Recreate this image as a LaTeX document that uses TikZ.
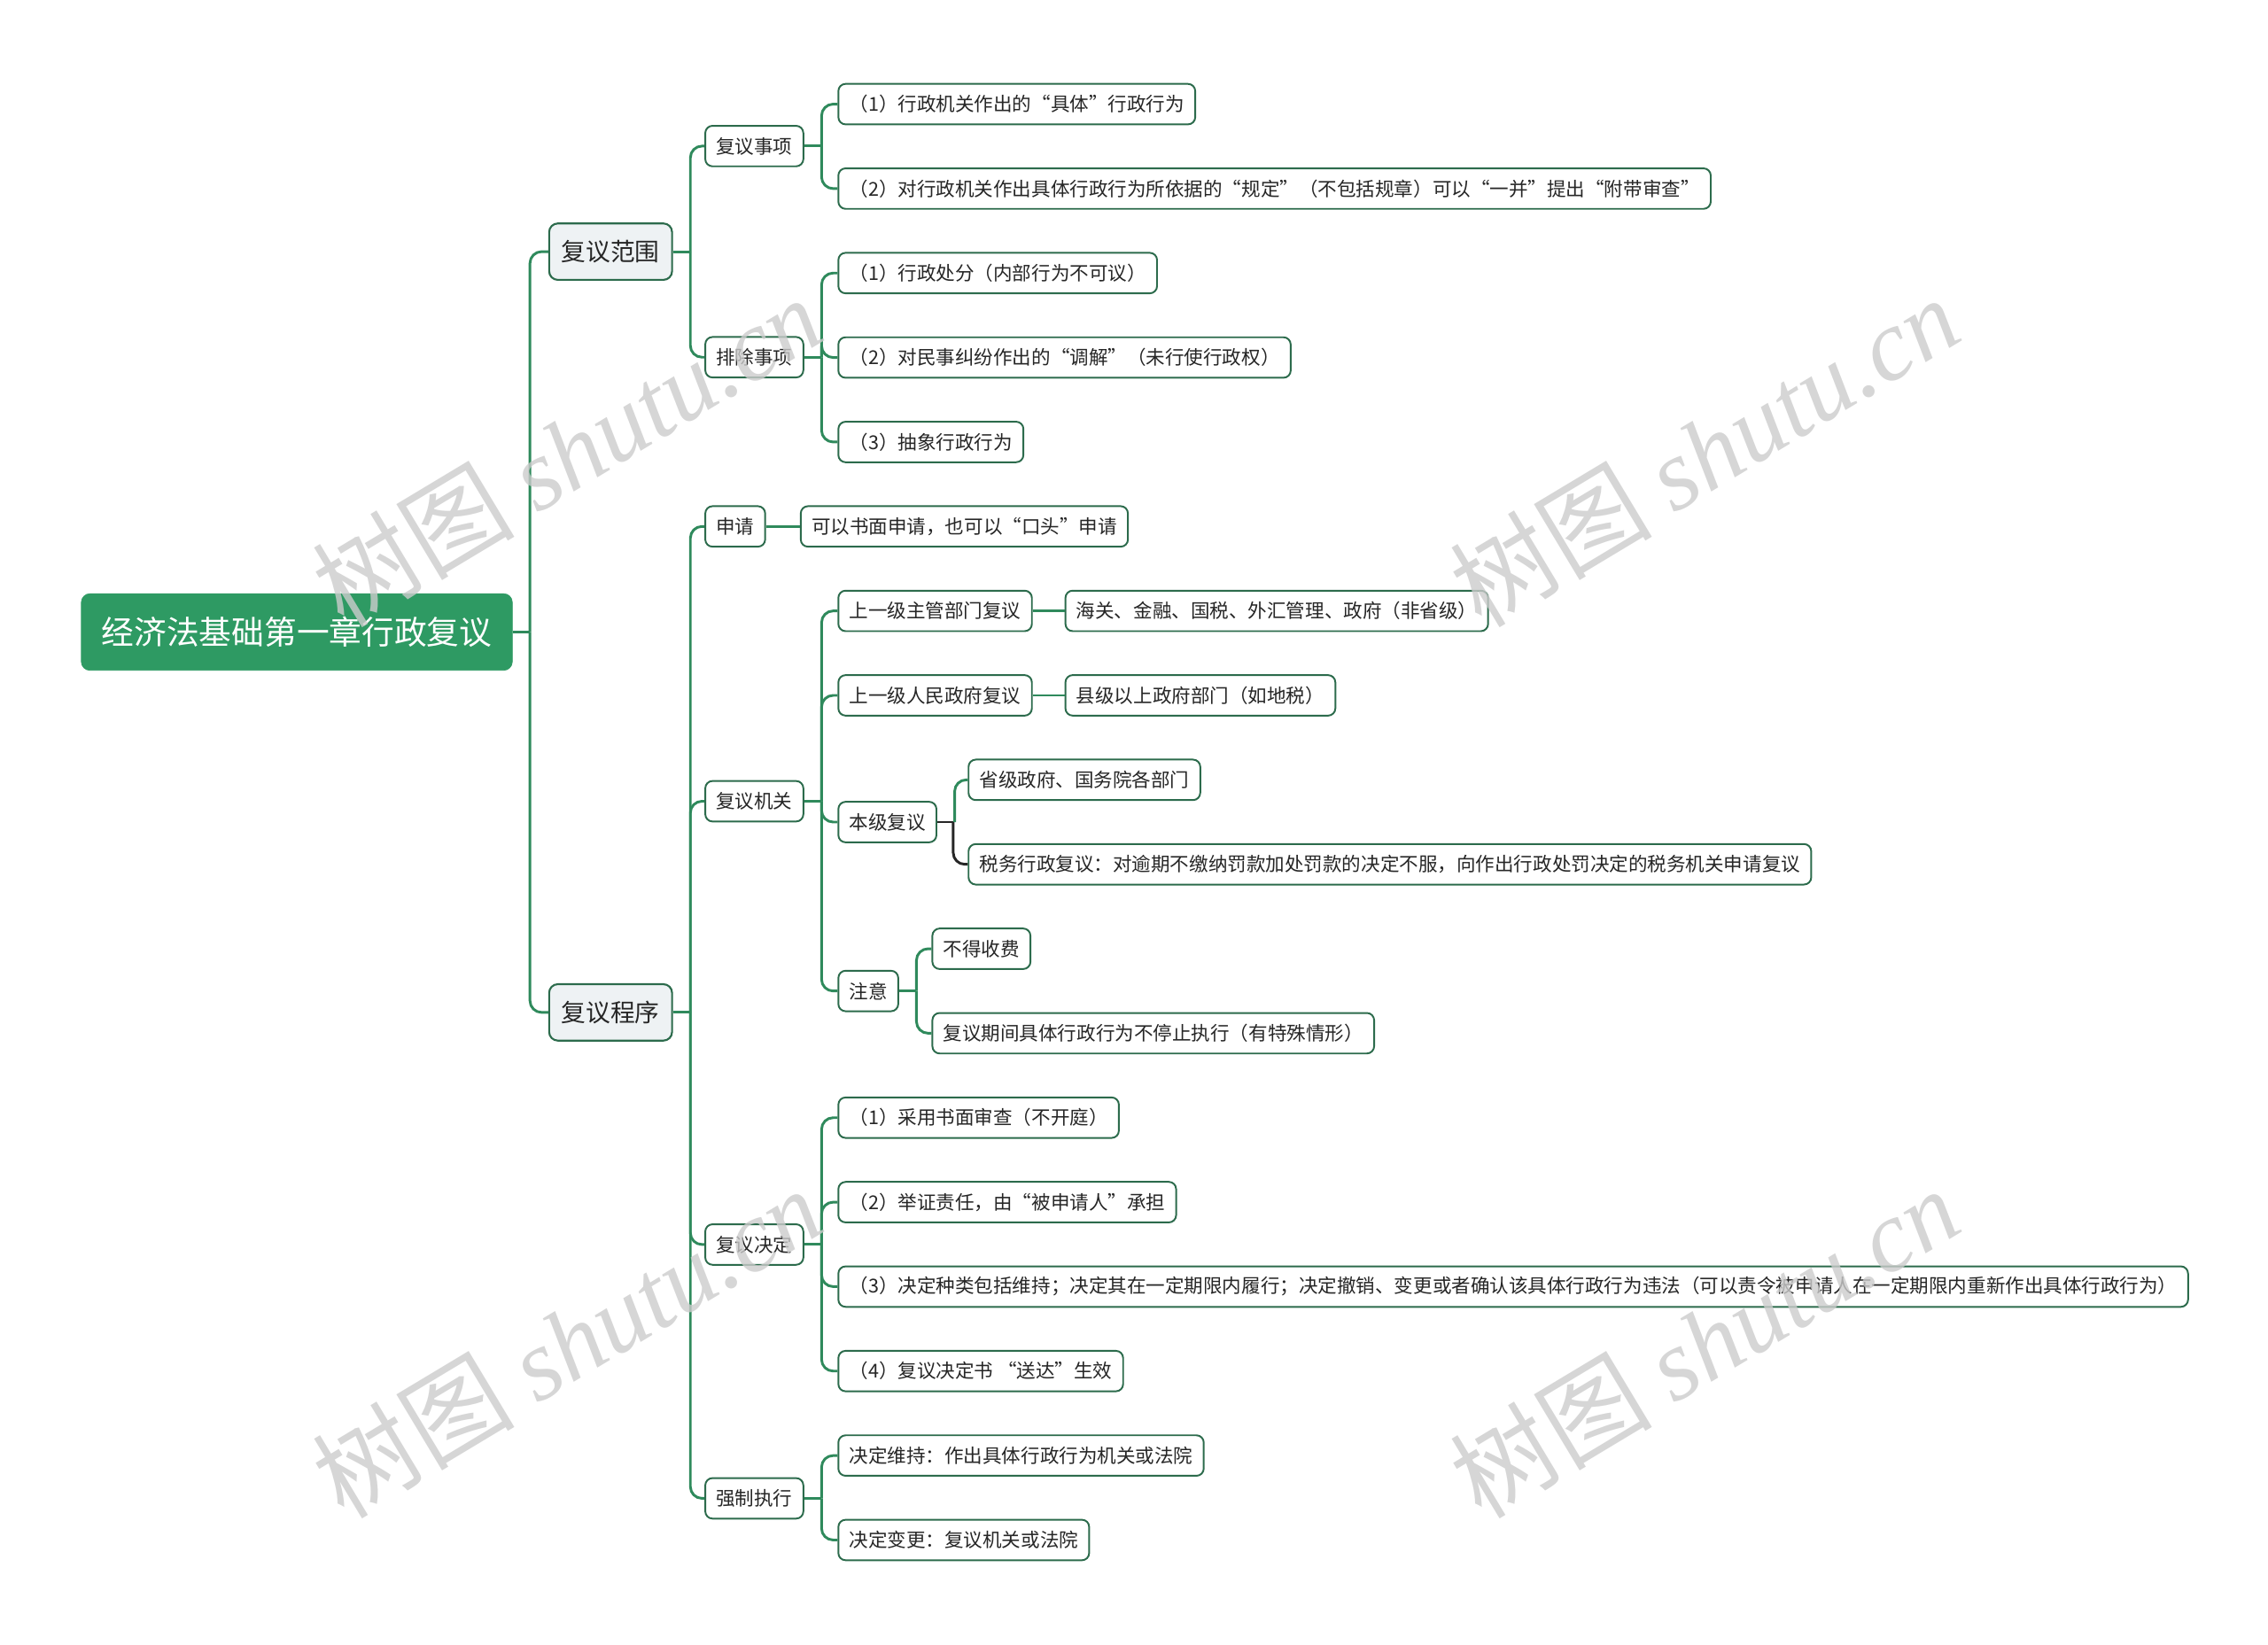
\documentclass[tikz,border=0pt]{standalone}
\usepackage{fontspec}
\setmainfont{Noto Sans CJK SC}
\newfontfamily\lebar{Noto Sans CJK SC}[RawFeature=+fwid]
\newfontfamily\latinserif{Liberation Serif}
\usepackage{tikz}
\usetikzlibrary{calc}

\definecolor{hijau}{HTML}{2E9A63}
\definecolor{garis}{HTML}{2F8A5C}
\definecolor{tepi}{HTML}{2C6B4C}
\definecolor{abu}{HTML}{EEF2F4}
\definecolor{teks}{HTML}{262626}

% kutip lebar penuh
\newcommand\kutip[1]{{\lebar “}#1{\lebar ”}}

\begin{document}
\begin{tikzpicture}[
    x=1pt, y=-1pt,
    akar/.style={draw=hijau, fill=hijau, rounded corners=6pt, text=white, anchor=west,
                 font=\fontsize{22.5}{26}\selectfont, minimum height=53pt, inner xsep=14pt},
    cabang/.style={draw=tepi, fill=abu, line width=1.3pt, rounded corners=6pt, text=teks, anchor=west,
                   font=\fontsize{17}{20}\selectfont, minimum height=39pt, inner xsep=8.5pt},
    kotak/.style={draw=tepi, fill=white, line width=1.2pt, rounded corners=5pt, text=teks, anchor=west,
                  font=\fontsize{13.2}{16}\selectfont, minimum height=28pt, inner xsep=7.5pt},
    lian/.style={draw=garis, line width=1.8pt},
    hitam/.style={draw=black!85, line width=1.8pt},
    tanda/.style={text=black!20, opacity=0.8, rotate=31, font=\fontsize{70}{70}\selectfont}
  ]
    \useasboundingbox (0,0) rectangle (1568,1137);

    \node[akar] (akar) at (56,437) {经济法基础第一章行政复议};
    \node[cabang] (fw) at (379,174) {复议范围};
    \node[cabang] (cx) at (379,700) {复议程序};

    \node[kotak] (sx) at (487,101) {复议事项};
    \node[kotak] (pc) at (487,247) {排除事项};
    \node[kotak] (sq) at (487,364) {申请};
    \node[kotak] (jg) at (487,554) {复议机关};
    \node[kotak] (jd) at (487,860.5) {复议决定};
    \node[kotak] (zx) at (487,1036) {强制执行};

    \node[kotak] (sx1) at (579,72) {（1）行政机关作出的\kutip{具体}行政行为};
    \node[kotak] (sx2) at (579,130.4) {（2）对行政机关作出具体行政行为所依据的\kutip{规定}（不包括规章）可以\kutip{一并}提出\kutip{附带审查}};
    \node[kotak] (pc1) at (579,188.8) {（1）行政处分（内部行为不可议）};
    \node[kotak] (pc2) at (579,247.2) {（2）对民事纠纷作出的\kutip{调解}（未行使行政权）};
    \node[kotak] (pc3) at (579,305.6) {（3）抽象行政行为};
    \node[kotak] (sq1) at (553,364) {可以书面申请，也可以\kutip{口头}申请};

    \node[kotak] (jg1) at (579,422.4) {上一级主管部门复议};
    \node[kotak] (jg1a) at (736,422.4) {海关、金融、国税、外汇管理、政府（非省级）};
    \node[kotak] (jg2) at (579,480.8) {上一级人民政府复议};
    \node[kotak] (jg2a) at (736,480.8) {县级以上政府部门（如地税）};
    \node[kotak] (bj) at (579,568.4) {本级复议};
    \node[kotak] (bj1) at (669,539.2) {省级政府、国务院各部门};
    \node[kotak] (bj2) at (669,597.6) {税务行政复议：对逾期不缴纳罚款加处罚款的决定不服，向作出行政处罚决定的税务机关申请复议};
    \node[kotak] (zy) at (579,685.2) {注意};
    \node[kotak] (zy1) at (644,656) {不得收费};
    \node[kotak] (zy2) at (644,714.4) {复议期间具体行政行为不停止执行（有特殊情形）};

    \node[kotak] (jd1) at (579,772.8) {（1）采用书面审查（不开庭）};
    \node[kotak] (jd2) at (579,831.2) {（2）举证责任，由\kutip{被申请人}承担};
    \node[kotak] (jd3) at (579,889.6) {（3）决定种类包括维持；决定其在一定期限内履行；决定撤销、变更或者确认该具体行政行为违法（可以责令被申请人在一定期限内重新作出具体行政行为）};
    \node[kotak] (jd4) at (579,948) {（4）复议决定书 \kutip{送达}生效};
    \node[kotak] (zx1) at (579,1006.4) {决定维持：作出具体行政行为机关或法院};
    \node[kotak] (zx2) at (579,1064.8) {决定变更：复议机关或法院};

    % garis penghubung
    \foreach \p in {akar, fw, cx, sx, pc, jg, jd, zx, zy}
      \draw[lian] (\p.east) -- ++(12,0);
    \foreach \p/\c in {akar/fw, akar/cx, fw/sx, fw/pc, cx/sq, cx/jg, cx/jd, cx/zx,
                       sx/sx1, sx/sx2, pc/pc1, pc/pc2, pc/pc3, jg/jg1, jg/jg2, jg/bj, jg/zy,
                       bj/bj1, zy/zy1, zy/zy2, jd/jd1, jd/jd2, jd/jd3, jd/jd4, zx/zx1, zx/zx2}
      \draw[lian, rounded corners=8pt] ($(\p.east)+(12,0)$) |- (\c.west);
    \foreach \p/\c in {sq/sq1, jg1/jg1a, jg2/jg2a}
      \draw[lian] (\p.east) -- (\c.west);
    \draw[hitam] (bj.east) -- ++(11,0);
    \draw[hitam, rounded corners=8pt] ($(bj.east)+(11,0)$) |- (bj2.west);

    % tanda air
    \foreach \n/\x/\y in {1/392/312, 2/1178/312, 3/392/928, 4/1178/928}
      \node[tanda] (wm\n) at (\x,\y) {树图 {\latinserif\itshape shutu.cn}};
\end{tikzpicture}
\end{document}
